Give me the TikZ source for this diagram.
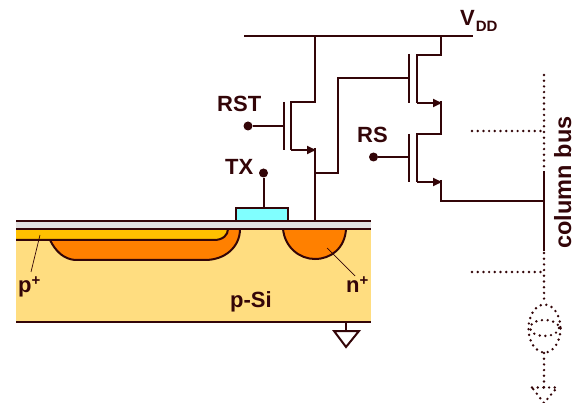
\documentclass[tikz,border=0pt]{standalone}
\usepackage{fontspec}
\setmainfont{Liberation Sans}
\usetikzlibrary{arrows.meta}
\definecolor{ink}{HTML}{330508}
\definecolor{sub}{HTML}{FFDD80}
\definecolor{pplus}{HTML}{FFC000}
\definecolor{nplus}{HTML}{FF8000}
\definecolor{oxide}{HTML}{E0E0E0}
\definecolor{gatec}{HTML}{80FFFF}
\tikzset{
  wire/.style={draw=ink,line width=2pt},
  thinw/.style={draw=ink,line width=0.7pt},
  dotw/.style={draw=ink,line width=2.7pt,line cap=round,dash pattern=on 0pt off 5.7pt},
  pin/.style={circle,fill=ink,inner sep=0pt,minimum size=9pt},
  lab/.style={text=ink,font=\bfseries\fontsize{22}{24}\selectfont,inner sep=0pt},
  srcarrow/.style={wire,-{Triangle[length=9pt,width=8pt]}}
}
\begin{document}
\begin{tikzpicture}[x=1pt,y=-1pt]
\useasboundingbox (0,0) rectangle (578,403);
% layers
\fill[sub] (16,229) rectangle (371,322);
\fill[oxide] (16,221) rectangle (371,229);
\fill[pplus] (16,229) rectangle (228,240);
% photodiode
\filldraw[fill=nplus,draw=none] (50,240) .. controls (56,252) and (64,259) .. (75,260) -- (205,260) .. controls (225,260) and (240,247) .. (240,229) -- (228,229) .. controls (228,235) and (223,240) .. (214,240) -- cycle;
\draw[wire] (50,240) .. controls (56,252) and (64,259) .. (75,260) -- (205,260) .. controls (225,260) and (240,247) .. (240,229);
\draw[wire] (228,229) .. controls (228,235) and (223,240) .. (214,240) -- (16,240);
% n+ well
\filldraw[fill=nplus,draw=ink,line width=2pt] (283,229) .. controls (285,248) and (300,259) .. (315,259) .. controls (331,259) and (345,248) .. (346,229);
% gate
\filldraw[fill=gatec,draw=ink,line width=2pt] (236,221) -- (236,208) -- (288,208) -- (288,221);
% layer lines
\draw[wire] (16,221) -- (371,221);
\draw[wire] (16,229) -- (371,229);
\draw[wire] (16,322) -- (371,322);
% ground
\coordinate (gnd) at (346,322);
\coordinate (gndt) at (346,331);
\draw[wire] (gnd) -- (gndt);
\draw[wire,line join=miter] (334,331) -- (359,331) -- (346,347) -- cycle;
% leaders
\coordinate (pa) at (40,235);
\coordinate (pb) at (31,272);
\coordinate (na) at (327,248);
\coordinate (nb) at (355,276);
\draw[thinw] (pa) -- (pb);
\draw[thinw] (na) -- (nb);
% pins
\node[pin] (tx) at (263.5,173) {};
\node[pin] (rst) at (248,126) {};
\node[pin] (rs) at (373.5,157) {};
\draw[wire] (tx) -- (263.5,208);
% VDD rail
\coordinate (vl) at (244,36);
\coordinate (vr) at (473,36);
\draw[wire] (vl) -- (vr);
% reset transistor
\draw[wire] (rst) -- (283,126);
\draw[wire] (283.5,102) -- (283.5,150);
\draw[wire] (315,36) -- (315,102.5) -- (291,102.5) -- (291,150);
\draw[srcarrow] (291,150) -- (316,150);
\draw[wire] (315,148) -- (315,221);
% source follower
\draw[wire] (315,173) -- (338,173) -- (338,78) -- (409,78);
\draw[wire] (409,54) -- (409,103);
\draw[wire] (441,36) -- (441,55) -- (417,55) -- (417,103);
\draw[srcarrow] (417,103) -- (442,103);
% row select
\draw[wire] (441,101) -- (441,134) -- (417,134) -- (417,182);
\draw[wire] (rs) -- (409,157);
\draw[wire] (409,134) -- (409,182);
\draw[srcarrow] (417,182) -- (442,182);
\draw[wire] (441,180) -- (441,201) -- (544,201);
\draw[wire] (544,171) -- (544,251);
% dotted parts
\draw[dotw] (544,75) -- (544,168);
\draw[dotw] (472,131) -- (544,131);
\draw[dotw] (544,253) -- (544,303);
\draw[dotw] (472,272) -- (544,272);
\draw[dotw] (544.5,328.5) ellipse (16 and 24);
\draw[dotw] (544.5,328) ellipse (14.5 and 8);
\draw[dotw] (544,353) -- (544,388);
\draw[dotw] (532,387.5) -- (557,387.5) -- (544,403) -- cycle;
% labels
\node[lab,anchor=base west] at (460,26) {V\kern1pt\raisebox{-6pt}{\fontsize{15}{16}\selectfont DD}};
\node[lab,anchor=base west] at (217,112) {RST};
\node[lab,anchor=base west] at (225,175) {TX};
\node[lab,anchor=base west] at (357,143) {RS};
\node[lab,anchor=base west] at (18,292) {p\raisebox{7pt}{\fontsize{15}{16}\selectfont +}};
\node[lab,anchor=base west] at (346,292) {n\raisebox{7pt}{\fontsize{15}{16}\selectfont +}};
\node[lab,anchor=base west] at (230,307) {p-Si};
\node[lab,rotate=90,anchor=base,font=\bfseries\fontsize{23.5}{25}\selectfont] at (571,182.5) {column bus};
\end{tikzpicture}
\end{document}
